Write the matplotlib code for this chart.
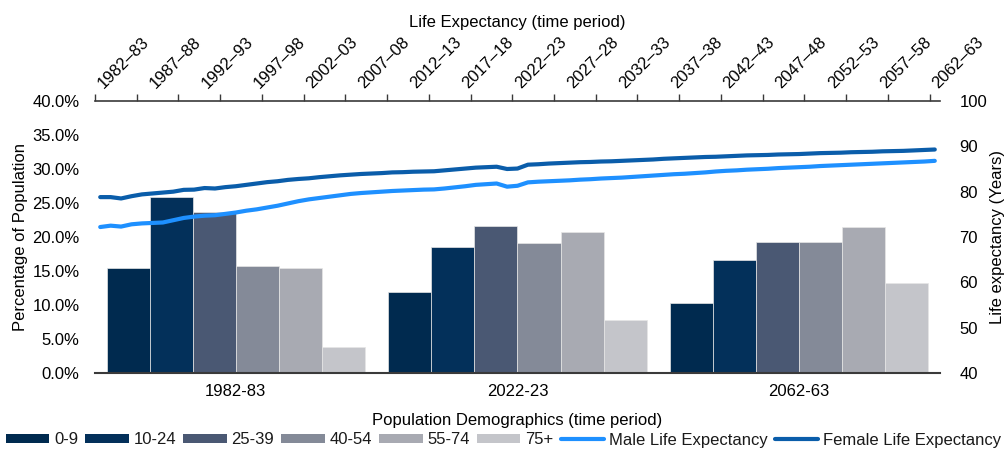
import matplotlib
matplotlib.use("Agg")
import numpy as np
import matplotlib.pyplot as plt
from matplotlib.ticker import FuncFormatter, FixedLocator
from matplotlib.patches import Patch
from matplotlib.lines import Line2D

plt.rcParams['font.family'] = ['Liberation Sans', 'DejaVu Sans']
plt.rcParams['font.size'] = 12
plt.rcParams['text.color'] = '#1a1a1a'

# ---------------- data ----------------
demo_periods = ['1982-83', '2022-23', '2062-63']
age_bands = ['0-9', '10-24', '25-39', '40-54', '55-74', '75+']
share_0_9 = [15.4, 11.9, 10.3]
share_10_24 = [25.9, 18.6, 16.6]
share_25_39 = [23.7, 21.6, 19.2]
share_40_54 = [15.7, 19.1, 19.2]
share_55_74 = [15.4, 20.7, 21.4]
share_75p = [3.8, 7.8, 13.2]
band_shares = [share_0_9, share_10_24, share_25_39, share_40_54, share_55_74, share_75p]

first_year = 1982
n_periods = 81
life_periods = [f"{y}\u2013{(y + 1) % 100:02d}" for y in range(first_year, first_year + n_periods)]
top_tick_labels = ['1982\u201383', '1987\u201388', '1992\u201393', '1997\u201398', '2002\u201303',
                   '2007\u201308', '2012\u201313', '2017\u201318', '2022\u201323', '2027\u201328',
                   '2032\u201333', '2037\u201338', '2042\u201343', '2047\u201348', '2052\u201353',
                   '2057\u201358', '2062\u201363']

female_le = [78.8, 78.8, 78.5, 79.0, 79.4, 79.6, 79.8, 80.0, 80.4, 80.45,
             80.8, 80.7, 81.0, 81.2, 81.5, 81.8, 82.1, 82.3, 82.6, 82.8,
             82.95, 83.2, 83.4, 83.6, 83.75, 83.9, 84.0, 84.1, 84.25, 84.3,
             84.4, 84.45, 84.5, 84.7, 84.9, 85.1, 85.3, 85.4, 85.5, 85.0,
             85.1, 85.95, 86.05, 86.2, 86.3, 86.4, 86.5, 86.55, 86.65, 86.7,
             86.8, 86.9, 87.0, 87.1, 87.25, 87.35, 87.45, 87.55, 87.65, 87.7,
             87.8, 87.9, 88.0, 88.05, 88.1, 88.2, 88.25, 88.3, 88.4, 88.5,
             88.55, 88.6, 88.7, 88.75, 88.8, 88.9, 88.95, 89.0, 89.1, 89.2,
             89.3]
male_le = [72.2, 72.5, 72.3, 72.8, 73.0, 73.1, 73.2, 73.7, 74.2, 74.5,
           74.7, 74.8, 75.1, 75.4, 75.8, 76.1, 76.5, 76.9, 77.4, 77.9,
           78.3, 78.6, 78.9, 79.2, 79.5, 79.7, 79.85, 80.0, 80.15, 80.25,
           80.35, 80.45, 80.5, 80.7, 80.95, 81.2, 81.5, 81.65, 81.8, 81.1,
           81.3, 82.05, 82.2, 82.3, 82.4, 82.5, 82.65, 82.75, 82.9, 83.0,
           83.1, 83.25, 83.4, 83.55, 83.7, 83.85, 83.95, 84.1, 84.25, 84.45,
           84.6, 84.7, 84.85, 84.95, 85.05, 85.2, 85.3, 85.4, 85.5, 85.65,
           85.75, 85.85, 85.95, 86.05, 86.15, 86.25, 86.35, 86.45, 86.55, 86.65,
           86.8]

# ---------------- style ----------------
band_colors = ['#002A4F', '#03305A', '#4A5873', '#848A98', '#A8AAB2', '#C4C5CA']
male_color = '#1E90FF'
female_color = '#0A5DAA'
axis_color = '#3a3a3a'

W, H = 1007, 450
fig = plt.figure(figsize=(W / 100, H / 100), dpi=100)
rect = [95 / W, 1 - 373 / H, (940 - 95) / W, (373 - 101) / H]

# ---- bar axes (left / bottom) ----
ax = fig.add_axes(rect, label='bars')
x = np.arange(len(demo_periods))
bw = 0.1527
for j, (band, vals) in enumerate(zip(age_bands, band_shares)):
    ax.bar(x + (j - 2.5) * bw, vals, width=bw, color=band_colors[j],
           edgecolor='#e6e6e6', linewidth=0.5, label=band, zorder=2)
ax.set_xlim(-0.5, len(demo_periods) - 0.5)
ax.set_ylim(0, 40)
ax.set_yticks(np.arange(0, 40.1, 5))
ax.yaxis.set_major_formatter(FuncFormatter(lambda v, _: f"{v:.1f}%"))
ax.set_xticks(x)
ax.set_xticklabels(demo_periods)
ax.tick_params(axis='y', length=0, pad=11, labelsize=12)
ax.tick_params(axis='x', length=0, pad=8, labelsize=12)
for s in ['left', 'right', 'top']:
    ax.spines[s].set_visible(False)
ax.spines['bottom'].set_color(axis_color)
ax.spines['bottom'].set_linewidth(1.5)
ax.set_xlabel('Population Demographics (time period)', fontsize=12, labelpad=10)
ax.set_ylabel('Percentage of Population', fontsize=12, labelpad=3)

# ---- line axes (right / top) ----
axl = fig.add_axes(rect, label='lines')
axl.patch.set_visible(False)
xi = np.arange(n_periods)
axl.plot(xi, male_le, color=male_color, lw=3, solid_capstyle='round',
         solid_joinstyle='round', label='Male Life Expectancy', zorder=3)
axl.plot(xi, female_le, color=female_color, lw=3, solid_capstyle='round',
         solid_joinstyle='round', label='Female Life Expectancy', zorder=3)
axl.set_xlim(-0.5, n_periods - 0.5)
axl.set_ylim(40, 100)
axl.yaxis.tick_right()
axl.yaxis.set_label_position('right')
axl.set_yticks(np.arange(40, 101, 10))
axl.tick_params(axis='y', length=0, pad=14, labelsize=12)
axl.xaxis.tick_top()
axl.xaxis.set_label_position('top')
label_pos = [life_periods.index(t) for t in top_tick_labels]
axl.xaxis.set_major_locator(FixedLocator(label_pos))
axl.set_xticklabels(top_tick_labels)
axl.xaxis.set_minor_locator(FixedLocator(np.arange(-0.5, n_periods, 4)))
axl.tick_params(axis='x', which='major', length=0, pad=11, labelsize=12)
axl.tick_params(axis='x', which='minor', length=5, width=1, color=axis_color,
                direction='out', top=True, bottom=False)
for lab in axl.get_xticklabels():
    lab.set_rotation(45)
    lab.set_ha('left')
    lab.set_va('center')
    lab.set_rotation_mode('anchor')
for s in ['left', 'right', 'bottom']:
    axl.spines[s].set_visible(False)
axl.spines['top'].set_color(axis_color)
axl.spines['top'].set_linewidth(1.2)
axl.set_xlabel('Life Expectancy (time period)', fontsize=12, labelpad=5)
axl.set_ylabel('Life expectancy (Years)', fontsize=12, labelpad=2)

# ---- legend ----
handles = [Patch(facecolor=c, edgecolor='none') for c in band_colors]
handles += [Line2D([0], [0], color=male_color, lw=3, solid_capstyle='round'),
            Line2D([0], [0], color=female_color, lw=3, solid_capstyle='round')]
labels = age_bands + ['Male Life Expectancy', 'Female Life Expectancy']
fig.legend(handles, labels, loc='center', bbox_to_anchor=(0.5, 1 - 440 / H), ncol=8,
           frameon=False, handlelength=2.6, handleheight=0.5, handletextpad=0.3,
           columnspacing=0.42, borderpad=0, borderaxespad=0, fontsize=12)

fig.savefig('out.png', dpi=100)
